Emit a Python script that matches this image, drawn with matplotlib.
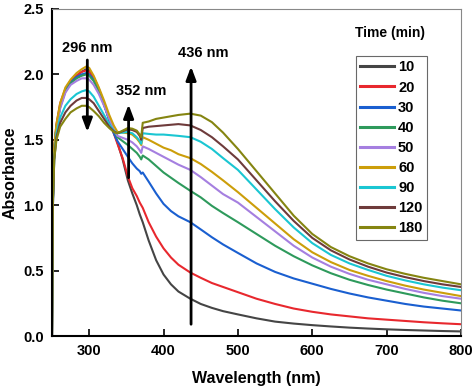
import numpy as np
import matplotlib
matplotlib.use("Agg")
import matplotlib.pyplot as plt

plt.rcParams['font.family'] = ['Liberation Sans', 'DejaVu Sans']
plt.rcParams['font.weight'] = 'bold'

wavelength = [250, 251, 253, 256, 261, 268, 275, 283, 290, 296, 300, 306, 313, 320, 327, 333, 338,
              345, 352, 358, 364, 368, 370, 372, 380, 390, 400, 410, 420, 436, 450, 465, 480, 500,
              525, 550, 575, 600, 625, 650, 675, 700, 725, 750, 775, 800]

times = ['10', '20', '30', '40', '50', '60', '90', '120', '180']

a10 = [0, 1.0, 1.42, 1.60, 1.76, 1.88, 1.95, 1.99, 2.02, 2.04, 2.03, 1.98, 1.89, 1.78, 1.66, 1.56, 1.48,
       1.35, 1.19, 1.09, 1.00, 0.93, 0.90, 0.87, 0.73, 0.58, 0.47, 0.395, 0.34, 0.285, 0.245, 0.215, 0.19, 0.165,
       0.135, 0.11, 0.095, 0.083, 0.073, 0.064, 0.057, 0.051, 0.046, 0.042, 0.038, 0.035]
a20 = [0, 1.0, 1.45, 1.62, 1.78, 1.89, 1.95, 1.99, 2.02, 2.03, 2.02, 1.97, 1.88, 1.77, 1.65, 1.55, 1.47,
       1.36, 1.22, 1.13, 1.07, 1.02, 1.00, 0.98, 0.87, 0.76, 0.67, 0.60, 0.545, 0.485, 0.445, 0.405, 0.375, 0.335,
       0.285, 0.245, 0.21, 0.185, 0.165, 0.15, 0.135, 0.125, 0.115, 0.105, 0.097, 0.09]
a30 = [0, 1.0, 1.42, 1.60, 1.76, 1.88, 1.94, 1.98, 2.00, 2.01, 2.00, 1.96, 1.88, 1.77, 1.65, 1.55, 1.49,
       1.43, 1.37, 1.32, 1.28, 1.26, 1.24, 1.25, 1.18, 1.09, 1.01, 0.955, 0.915, 0.87, 0.815, 0.755, 0.70, 0.635,
       0.555, 0.49, 0.44, 0.40, 0.36, 0.325, 0.295, 0.27, 0.245, 0.225, 0.21, 0.195]
a40 = [0, 1.0, 1.42, 1.60, 1.75, 1.87, 1.93, 1.97, 1.99, 2.00, 1.99, 1.95, 1.87, 1.77, 1.66, 1.57, 1.52,
       1.49, 1.46, 1.43, 1.40, 1.37, 1.35, 1.38, 1.35, 1.30, 1.25, 1.21, 1.17, 1.11, 1.06, 0.995, 0.94, 0.87,
       0.78, 0.69, 0.61, 0.54, 0.48, 0.43, 0.39, 0.355, 0.325, 0.295, 0.27, 0.25]
a50 = [0, 0.95, 1.40, 1.58, 1.74, 1.86, 1.92, 1.95, 1.97, 1.97, 1.96, 1.92, 1.85, 1.76, 1.66, 1.58, 1.53,
       1.515, 1.50, 1.48, 1.45, 1.42, 1.40, 1.45, 1.43, 1.40, 1.37, 1.34, 1.31, 1.27, 1.215, 1.15, 1.085, 1.02,
       0.91, 0.80, 0.69, 0.60, 0.53, 0.475, 0.43, 0.395, 0.36, 0.33, 0.305, 0.285]
a60 = [0, 1.0, 1.45, 1.62, 1.78, 1.90, 1.96, 2.01, 2.04, 2.06, 2.05, 1.99, 1.90, 1.80, 1.69, 1.61, 1.56,
       1.555, 1.55, 1.54, 1.51, 1.48, 1.46, 1.52, 1.50, 1.47, 1.44, 1.42, 1.39, 1.36, 1.315, 1.255, 1.19, 1.10,
       0.98, 0.86, 0.74, 0.64, 0.565, 0.505, 0.46, 0.42, 0.385, 0.355, 0.33, 0.305]
a90 = [0, 0.95, 1.35, 1.55, 1.67, 1.76, 1.81, 1.85, 1.87, 1.88, 1.87, 1.83, 1.76, 1.69, 1.62, 1.57, 1.55,
       1.555, 1.56, 1.55, 1.52, 1.49, 1.47, 1.55, 1.545, 1.54, 1.54, 1.535, 1.53, 1.52, 1.485, 1.43, 1.36, 1.27,
       1.12, 0.97, 0.83, 0.71, 0.62, 0.555, 0.505, 0.46, 0.425, 0.395, 0.37, 0.35]
a120 = [0, 0.95, 1.35, 1.52, 1.63, 1.71, 1.76, 1.80, 1.82, 1.82, 1.81, 1.78, 1.72, 1.66, 1.60, 1.565, 1.55,
        1.565, 1.58, 1.575, 1.56, 1.53, 1.50, 1.59, 1.60, 1.605, 1.61, 1.615, 1.62, 1.61, 1.575, 1.52, 1.45, 1.35,
        1.19, 1.03, 0.88, 0.75, 0.655, 0.585, 0.53, 0.485, 0.45, 0.42, 0.395, 0.375]
a180 = [0, 1.0, 1.35, 1.50, 1.60, 1.66, 1.71, 1.74, 1.76, 1.76, 1.75, 1.72, 1.68, 1.63, 1.59, 1.56, 1.55,
        1.57, 1.59, 1.585, 1.57, 1.54, 1.52, 1.63, 1.64, 1.66, 1.67, 1.68, 1.69, 1.70, 1.685, 1.635, 1.555, 1.43,
        1.26, 1.09, 0.92, 0.78, 0.68, 0.61, 0.555, 0.51, 0.475, 0.445, 0.42, 0.395]

series = [a10, a20, a30, a40, a50, a60, a90, a120, a180]
colors = ['#454545', '#e8282e', '#1a5fd0', '#2e9a5c', '#a57fe0', '#cc9e0a', '#1ac6d2', '#6e3b3b', '#858511']

fig = plt.figure(figsize=(4.74, 3.88), dpi=100)
ax = fig.add_axes([52/474, 52/388, 409/474, 327/388])

for lab, ys, c in zip(times, series, colors):
    ax.plot(wavelength, ys, color=c, lw=1.5, label=lab)

ax.set_xlim(250, 800)
ax.set_ylim(0, 2.5)
ax.set_xticks([300, 400, 500, 600, 700, 800])
ax.set_yticks([0.0, 0.5, 1.0, 1.5, 2.0, 2.5])
ax.yaxis.set_major_formatter(matplotlib.ticker.FormatStrFormatter('%.1f'))
ax.tick_params(direction='in', length=5, width=1.2, labelsize=10.5, pad=6)
for lbl in ax.get_xticklabels() + ax.get_yticklabels():
    lbl.set_fontweight('bold')
ax.spines['left'].set_linewidth(1.5)
ax.spines['bottom'].set_linewidth(1.5)
ax.spines['top'].set_linewidth(0.8)
ax.spines['right'].set_linewidth(0.8)
ax.spines['top'].set_color('#888888')
ax.spines['right'].set_color('#888888')

ax.set_xlabel('Wavelength (nm)', fontsize=11.5, fontweight='bold', labelpad=9)
ax.set_ylabel('Absorbance', fontsize=11.5, fontweight='bold', labelpad=4)

arrow_kw = dict(arrowstyle='-|>,head_length=0.8,head_width=0.3', color='black', lw=2, shrinkA=0, shrinkB=0)
ax.annotate('', xy=(297.5, 1.56), xytext=(297.5, 2.11), arrowprops=arrow_kw)
ax.annotate('', xy=(353, 1.77), xytext=(353, 1.21), arrowprops=arrow_kw)
ax.annotate('', xy=(437, 2.06), xytext=(437, 0.09), arrowprops=arrow_kw)
ax.text(297, 2.20, '296 nm', ha='center', va='center', fontsize=10.5, fontweight='bold')
ax.text(370.6, 1.875, '352 nm', ha='center', va='center', fontsize=10.5, fontweight='bold')
ax.text(453, 2.16, '436 nm', ha='center', va='center', fontsize=10.5, fontweight='bold')

ax.text(0.826, 0.9275, 'Time (min)', transform=ax.transAxes, ha='center', va='center',
        fontsize=10, fontweight='bold')
leg = ax.legend(loc='upper left', bbox_to_anchor=(0.7426, 0.856), borderaxespad=0,
                frameon=True, fancybox=False, edgecolor='#444444', handlelength=2.3,
                handletextpad=0.3, labelspacing=0.42, borderpad=0.3,
                prop={'weight': 'bold', 'size': 10.5})
leg.get_frame().set_linewidth(0.8)
for ln in leg.get_lines():
    ln.set_linewidth(2.2)

fig.savefig('out.png', dpi=100)
